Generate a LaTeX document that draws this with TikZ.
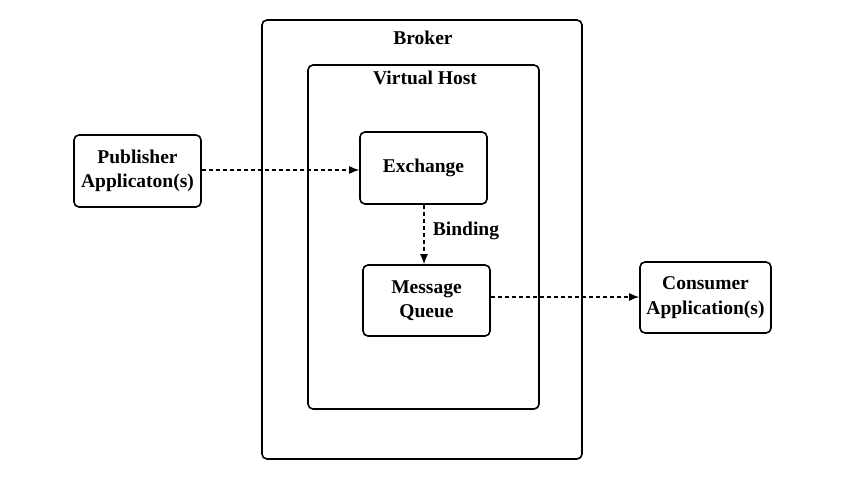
\documentclass[tikz,border=0pt]{standalone}
\usepackage{fontspec}
\setmainfont{Liberation Serif}
\usetikzlibrary{arrows.meta}
\begin{document}
\begin{tikzpicture}[x=1pt,y=-1pt,
  box/.style={draw, line width=1.6pt, rounded corners=5pt, inner sep=0pt},
  comp/.style={box, minimum width=127pt, minimum height=72pt, align=center, font=\fontsize{19.5}{24.5}\selectfont\bfseries},
  lbl/.style={font=\fontsize{19.5}{20}\selectfont\bfseries, inner sep=0pt},
  flow/.style={line width=1.4pt, dash pattern=on 4pt off 3pt, -{Latex[length=10pt,width=8pt]}}]
\useasboundingbox (0,0) rectangle (845,488);
\node[box, minimum width=320pt, minimum height=439pt] (broker) at (422,239.5) {};
\node[box, minimum width=231pt, minimum height=344pt] (vhost) at (423.5,237) {};
\node[lbl] (brokerlbl) at (423,38) {Broker};
\node[lbl] (vhostlbl) at (425,78) {Virtual Host};
\node[comp] (pub) at (137.5,171) {Publisher\\Applicaton(s)};
\node[comp] (ex) at (423.5,168) {Exchange};
\node[comp, minimum height=71pt] (mq) at (426.5,300.5) {Message\\Queue};
\node[comp, minimum width=131pt, minimum height=71pt] (con) at (705.5,297.5) {Consumer\\Application(s)};
\node[lbl] (bind) at (466,231) {Binding};
\draw[flow] (pub.east |- 0,170) -- (ex.west |- 0,170);
\draw[flow] (ex.south -| 424,0) -- (mq.north -| 424,0);
\draw[flow] (mq.east |- 0,297) -- (con.west |- 0,297);
\end{tikzpicture}
\end{document}
